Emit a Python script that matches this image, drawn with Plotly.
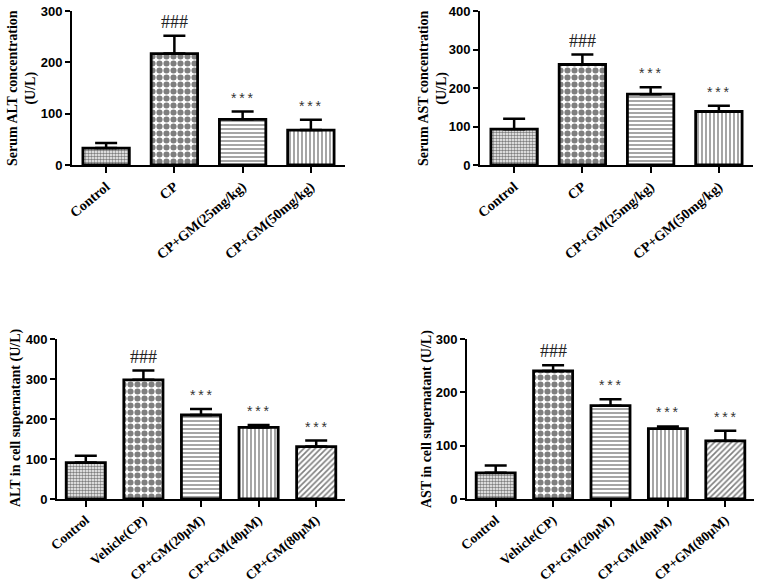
import plotly.graph_objects as go

W, H = 757, 584

# ---- data ----
cats_top = ["Control", "CP", "CP+GM(25mg/kg)", "CP+GM(50mg/kg)"]
alt_serum = [33, 217, 89, 68]
alt_serum_err = [10, 35, 15, 20]
ast_serum = [93, 261, 184, 139]
ast_serum_err = [27, 26, 18, 15]

cats_bot = ["Control", "Vehicle(CP)", "CP+GM(20\u03bcM)", "CP+GM(40\u03bcM)", "CP+GM(80\u03bcM)"]
alt_cell = [91, 298, 210, 179, 131]
alt_cell_err = [17, 23, 15, 6, 15]
ast_cell = [49, 240, 175, 132, 109]
ast_cell_err = [14, 11, 12, 4, 19]

sig_top = ["", "###", "***", "***"]
sig_bot = ["", "###", "***", "***", "***"]

ytitles = ["Serum ALT concentration<br>(U/L)", "Serum AST concentration<br>(U/L)",
           "ALT in cell supernatant (U/L)", "AST in cell supernatant (U/L)"]
yranges = [300, 400, 400, 300]
ydticks = [100, 100, 100, 100]

patterns = [
    dict(shape=".", size=3, solidity=0.55, fgcolor="black", bgcolor="white"),
    dict(shape=".", size=7, solidity=0.6, fgcolor="black", bgcolor="white"),
    dict(shape="-", size=4, solidity=0.35, fgcolor="black", bgcolor="white"),
    dict(shape="|", size=4, solidity=0.35, fgcolor="black", bgcolor="white"),
    dict(shape="/", size=4, solidity=0.4, fgcolor="black", bgcolor="white"),
]

def px_x(a):
    return a / W

def px_y(b):
    return 1 - b / H

def xd(a, b):
    return [px_x(a), px_x(b)]

def yd(top, bottom):
    return [px_y(bottom), px_y(top)]

panels = [
    dict(cats=cats_top, vals=alt_serum, err=alt_serum_err, sig=sig_top,
         xdom=xd(72, 345), ydom=yd(11, 165), title_xy=(22, 88), cfont=14),
    dict(cats=cats_top, vals=ast_serum, err=ast_serum_err, sig=sig_top,
         xdom=xd(480, 753), ydom=yd(11, 165), title_xy=(433, 88), cfont=14),
    dict(cats=cats_bot, vals=alt_cell, err=alt_cell_err, sig=sig_bot,
         xdom=xd(57, 345), ydom=yd(339, 499), title_xy=(16, 418), cfont=13.5),
    dict(cats=cats_bot, vals=ast_cell, err=ast_cell_err, sig=sig_bot,
         xdom=xd(467, 754), ydom=yd(339, 499), title_xy=(427, 419), cfont=13.5),
]

fig = go.Figure()
annotations = []
layout = {}

for i, p in enumerate(panels):
    n = i + 1
    xa = "x" if n == 1 else f"x{n}"
    ya = "y" if n == 1 else f"y{n}"
    for j, (c, v, e) in enumerate(zip(p["cats"], p["vals"], p["err"])):
        fig.add_trace(go.Bar(
            x=[j], y=[v], xaxis=xa, yaxis=ya, width=0.68,
            marker=dict(color="white", line=dict(color="black", width=2.8),
                        pattern=patterns[j]),
            error_y=dict(type="data", symmetric=False, array=[e], arrayminus=[0],
                         color="black", thickness=2.5, width=11),
            showlegend=False, hoverinfo="skip",
        ))
        s = p["sig"][j]
        if s == "###":
            annotations.append(dict(
                x=j, y=v + e, xref=xa, yref=ya, text=s, showarrow=False,
                yanchor="bottom", yshift=2,
                font=dict(family="Liberation Serif", size=18, color="#222")))
        elif s:
            annotations.append(dict(
                x=j, y=v + e, xref=xa, yref=ya, text="*\u2009*\u2009*", showarrow=False,
                yanchor="bottom", yshift=4,
                font=dict(family="Liberation Sans", size=14, color="#333")))
    tx, ty = p["title_xy"]
    annotations.append(dict(
        x=px_x(tx), y=px_y(ty), xref="paper", yref="paper", textangle=-90,
        text=f"<b>{ytitles[i]}</b>", showarrow=False, xanchor="center", yanchor="middle",
        font=dict(family="Liberation Serif", size=14, color="black")))
    xkey = "xaxis" if n == 1 else f"xaxis{n}"
    ykey = "yaxis" if n == 1 else f"yaxis{n}"
    ncat = len(p["cats"])
    layout[xkey] = dict(
        domain=p["xdom"], anchor=ya, range=[-0.5, ncat - 0.5], automargin=False,
        tickmode="array", tickvals=list(range(ncat)), ticktext=[f"<b>{c}</b>" for c in p["cats"]],
        tickangle=-40, ticks="outside", ticklen=6, tickwidth=2, tickcolor="black",
        showline=True, linecolor="black", linewidth=2, showgrid=False, zeroline=False,
        ticklabeloverflow="allow",
        tickfont=dict(family="Liberation Serif", size=p["cfont"], color="black"),
    )
    layout[ykey] = dict(
        domain=p["ydom"], anchor=xa, range=[0, yranges[i]], dtick=ydticks[i], automargin=False,
        ticks="outside", ticklen=5, tickwidth=2, tickcolor="black",
        showline=True, linecolor="black", linewidth=2, showgrid=False, zeroline=False,
        ticklabeloverflow="allow",
        tickfont=dict(family="Liberation Sans", size=13, color="black"),
        tickprefix="<b>", ticksuffix="</b>",
    )

fig.update_layout(
    width=W, height=H, margin=dict(l=0, r=0, t=0, b=0),
    plot_bgcolor="white", paper_bgcolor="white",
    annotations=annotations, **layout,
)

fig.write_html(
    "out.html",
    config={"displayModeBar": False},
    post_script="document.body.style.margin='0';document.body.style.overflow='hidden';",
)
